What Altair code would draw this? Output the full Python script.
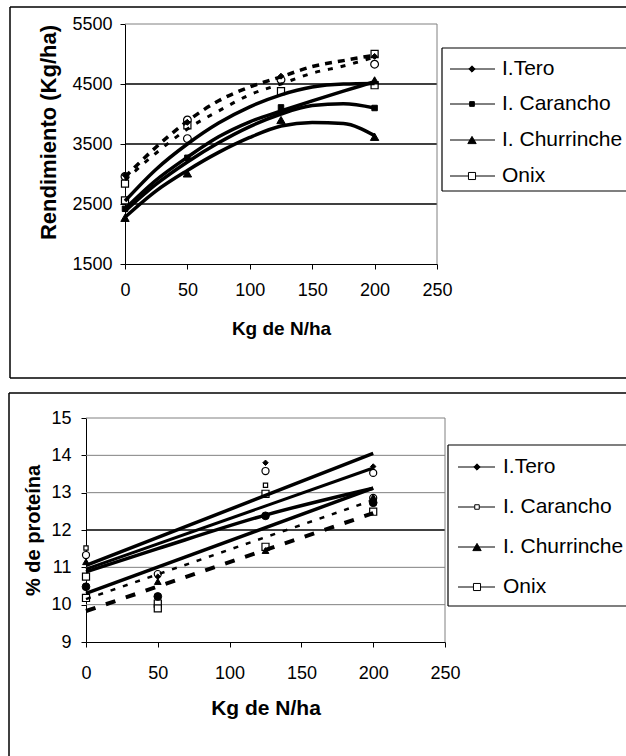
import altair as alt
import pandas as pd

FONT = "Liberation Sans"

varieties = ["I.Tero", "I. Carancho", "I. Churrinche", "Onix"]
dose_ticks = [0, 50, 100, 150, 200, 250]

# ---------------- top panel: Rendimiento (Kg/ha) ----------------
yield_ticks = [1500, 2500, 3500, 4500, 5500]
yield_grid = [2500, 3500, 4500]

top_diamond_x = [0, 50, 125, 200]
top_diamond_y = [2980, 3860, 4630, 4960]
top_fsquare_x = [0, 50, 125, 200]
top_fsquare_y = [2420, 3270, 4110, 4100]
top_triangle_x = [0, 50, 125, 200, 200]
top_triangle_y = [2270, 3010, 3900, 3620, 4560]
top_osquare_x = [0, 0, 50, 125, 200, 200]
top_osquare_y = [2840, 2560, 3810, 4380, 5000, 4480]
top_ocircle_x = [0, 50, 50, 125, 200]
top_ocircle_y = [2960, 3900, 3590, 4570, 4830]

curve_x = [0, 25, 50, 75, 100, 125, 150, 175, 200]
top_curve_a = [2550, 3080, 3500, 3850, 4120, 4320, 4450, 4500, 4510]
top_curve_b = [2420, 2900, 3280, 3620, 3870, 4050, 4220, 4380, 4540]
top_curve_c = [2380, 2830, 3200, 3520, 3790, 4000, 4140, 4170, 4100]
top_curve_d = [2280, 2720, 3060, 3360, 3610, 3800, 3860, 3840, 3640]
top_dash_a = [2950, 3450, 3880, 4220, 4450, 4620, 4790, 4890, 4980]
top_dash_b = [2900, 3350, 3750, 4050, 4320, 4500, 4680, 4800, 4950]

# ---------------- bottom panel: % de proteína ----------------
prot_ticks = [9, 10, 11, 12, 13, 14, 15]
prot_grid_grey = [10, 11, 13, 14, 15]
prot_grid_black = [12]

bot_diamond_x = [50, 125, 200]
bot_diamond_y = [10.75, 13.8, 13.7]
bot_ocircle_x = [0, 50, 125, 200, 200]
bot_ocircle_y = [11.33, 10.82, 13.58, 13.53, 12.86]
bot_ssquare_x = [0, 125]
bot_ssquare_y = [11.52, 13.2]
bot_triangle_x = [0, 50, 125, 200]
bot_triangle_y = [11.15, 10.62, 11.45, 12.88]
bot_osquare_x = [0, 0, 50, 50, 125, 125, 200]
bot_osquare_y = [10.75, 10.18, 10.03, 9.9, 12.97, 11.55, 12.49]
bot_fcircle_x = [0, 50, 125, 200]
bot_fcircle_y = [10.48, 10.22, 12.38, 12.73]

bot_line_x = [0, 200]
bot_line_1 = [11.05, 14.05]
bot_line_2 = [10.95, 13.66]
bot_line_4 = [10.30, 13.12]
bot_bent_x = [0, 50, 125, 200]
bot_bent_y = [10.88, 11.50, 12.40, 13.12]
bot_dash_1 = [10.15, 12.80]
bot_dash_2 = [9.83, 12.45]

dummy = pd.DataFrame({"a": [0]})
W, H = 626, 756


def make_enc(xrange, yrange, ydomain, yticks, ytitle, ysize, xsize, xlab_pad, xtitle_pad,
             ylab_pad, ytitle_pad, ytitle_y=None):
    xe = alt.X("x:Q", scale=alt.Scale(domain=[0, 250], range=xrange, nice=False, zero=False),
               axis=alt.Axis(orient="bottom", offset=yrange[0] - H, values=dose_ticks,
                             title="Kg de N/ha", titleFontSize=xsize, grid=False,
                             labelPadding=xlab_pad, titlePadding=xtitle_pad, tickSize=5,
                             format="d", labelFlush=False))
    ykw = dict(orient="left", offset=-xrange[0], values=yticks, title=ytitle,
               titleFontSize=ysize, grid=False, labelPadding=ylab_pad,
               titlePadding=ytitle_pad, tickSize=5, format="d")
    if ytitle_y is not None:
        ykw["titleY"] = ytitle_y
    ye = alt.Y("v:Q", scale=alt.Scale(domain=ydomain, range=yrange, nice=False, zero=False),
               axis=alt.Axis(**ykw))
    return xe, ye


def points(xs, ys, xe, ye, shape, size, fill, sw=1.0):
    df = pd.DataFrame({"x": xs, "v": ys})
    return alt.Chart(df).mark_point(shape=shape, size=size, filled=True, fill=fill,
                                    stroke="black", strokeWidth=sw, opacity=1).encode(x=xe, y=ye)


def line(xs, ys, xe, ye, width, dash=None):
    df = pd.DataFrame({"x": xs, "v": ys})
    kw = dict(color="black", strokeWidth=width, interpolate="monotone", strokeCap="butt")
    if dash:
        kw["strokeDash"] = dash
    return alt.Chart(df).mark_line(**kw).encode(x=xe, y=ye)


def grid(vals, xe, ye, color, w=1.0):
    df = pd.DataFrame({"x": [0] * len(vals), "x2": [250] * len(vals), "v": vals})
    return alt.Chart(df).mark_rule(color=color, strokeWidth=w).encode(x=xe, x2="x2:Q", y=ye)


def right_border(ydomain, xe, ye):
    df = pd.DataFrame({"x": [250], "v": [ydomain[0]], "v2": [ydomain[1]]})
    return alt.Chart(df).mark_rule(color="#808080", strokeWidth=1).encode(x=xe, y=ye, y2="v2:Q")


def hrule(x1, x2, y, w=1.5):
    return alt.Chart(dummy).mark_rule(color="black", strokeWidth=w).encode(
        x=alt.value(x1), x2=alt.value(x2), y=alt.value(y))


def vrule(x, y1, y2, w=1.5):
    return alt.Chart(dummy).mark_rule(color="black", strokeWidth=w).encode(
        x=alt.value(x), y=alt.value(y1), y2=alt.value(y2))


def legend(x0, y0, y1, line_x1, line_x2, mark_x, text_x, rows_y, markers):
    layers = [vrule(x0, y0, y1, 1.2), hrule(x0, W + 5, y0, 1.2), hrule(x0, W + 5, y1, 1.2)]
    for label, ry, (shape, size, fill) in zip(varieties, rows_y, markers):
        layers.append(hrule(line_x1, line_x2, ry, 1))
        layers.append(alt.Chart(dummy).mark_point(shape=shape, size=size, filled=True, fill=fill,
                                                  stroke="black", strokeWidth=1, opacity=1)
                      .encode(x=alt.value(mark_x), y=alt.value(ry)))
        layers.append(alt.Chart(pd.DataFrame({"label": [label]})).mark_text(
            align="left", baseline="middle", font=FONT, fontSize=21, color="black")
            .encode(x=alt.value(text_x), y=alt.value(ry), text="label:N"))
    return layers


# ---------------- top chart ----------------
xe, ye = make_enc([125, 437], [264, 24], [1500, 5500], yield_ticks, "Rendimiento (Kg/ha)",
                  22, 19, 12, 20, 8, 11, ytitle_y=132)
top = alt.layer(
    grid(yield_grid, xe, ye, "black", 1.3),
    grid([5500], xe, ye, "#808080"),
    right_border([1500, 5500], xe, ye),
    points(top_ocircle_x, top_ocircle_y, xe, ye, "circle", 60, "white", 1.2),
    points(top_osquare_x, top_osquare_y, xe, ye, "square", 50, "white", 1.2),
    points(top_fsquare_x, top_fsquare_y, xe, ye, "square", 30, "black"),
    points(top_triangle_x, top_triangle_y, xe, ye, "triangle-up", 70, "black"),
    points(top_diamond_x, top_diamond_y, xe, ye, "diamond", 35, "black"),
    line(curve_x, top_dash_a, xe, ye, 3.5, [7, 6]),
    line(curve_x, top_dash_b, xe, ye, 3, [5, 8]),
    line(curve_x, top_curve_a, xe, ye, 3.5),
    line(curve_x, top_curve_b, xe, ye, 3.5),
    line(curve_x, top_curve_c, xe, ye, 3.5),
    line(curve_x, top_curve_d, xe, ye, 3.5),
)

# ---------------- bottom chart ----------------
xe2, ye2 = make_enc([86, 445], [642, 418], [9, 15], prot_ticks, "% de proteína",
                    20, 21, 17, 15, 10, 7)
bottom = alt.layer(
    grid(prot_grid_grey, xe2, ye2, "#808080"),
    grid(prot_grid_black, xe2, ye2, "black", 1.3),
    right_border([9, 15], xe2, ye2),
    points(bot_ocircle_x, bot_ocircle_y, xe2, ye2, "circle", 50, "white", 1.2),
    points(bot_osquare_x, bot_osquare_y, xe2, ye2, "square", 50, "white", 1.2),
    points(bot_ssquare_x, bot_ssquare_y, xe2, ye2, "square", 18, "white", 1.2),
    points(bot_triangle_x, bot_triangle_y, xe2, ye2, "triangle-up", 45, "black"),
    points(bot_fcircle_x, bot_fcircle_y, xe2, ye2, "circle", 60, "black"),
    points(bot_diamond_x, bot_diamond_y, xe2, ye2, "diamond", 30, "black"),
    line(bot_line_x, bot_dash_1, xe2, ye2, 2.5, [5, 8]),
    line(bot_line_x, bot_dash_2, xe2, ye2, 4, [10, 11]),
    line(bot_line_x, bot_line_1, xe2, ye2, 3.5),
    line(bot_line_x, bot_line_2, xe2, ye2, 3),
    line(bot_bent_x, bot_bent_y, xe2, ye2, 3.5),
    line(bot_line_x, bot_line_4, xe2, ye2, 3.5),
)

# panel frames (right edges lie outside the picture) and legends
decor = [
    vrule(10, 7, 378), hrule(10, W + 5, 7), hrule(10, W + 5, 378),
    vrule(9, 393, H + 5), hrule(9, W + 5, 393),
]
decor += legend(442, 48, 191, 450, 495, 472, 502, [69, 104, 140, 176],
                [("diamond", 40, "black"), ("square", 22, "black"),
                 ("triangle-up", 70, "black"), ("square", 50, "white")])
decor += legend(448, 445, 606, 458, 495, 477, 503, [467, 507, 547, 587],
                [("diamond", 40, "black"), ("square", 20, "white"),
                 ("triangle-up", 70, "black"), ("square", 50, "white")])

chart = alt.layer(top, bottom, *decor).resolve_scale(
    x="independent", y="independent"
).properties(
    width=W, height=H,
    autosize=alt.AutoSizeParams(type="none"),
    padding=0,
    background="white",
).configure_view(strokeWidth=0).configure_axis(
    domainColor="black", domainWidth=1, tickColor="black", labelColor="black",
    titleColor="black", labelFont=FONT, titleFont=FONT, labelFontSize=18,
    titleFontWeight="bold",
)

chart.save("out.html", embed_options={"renderer": "svg", "actions": False})
